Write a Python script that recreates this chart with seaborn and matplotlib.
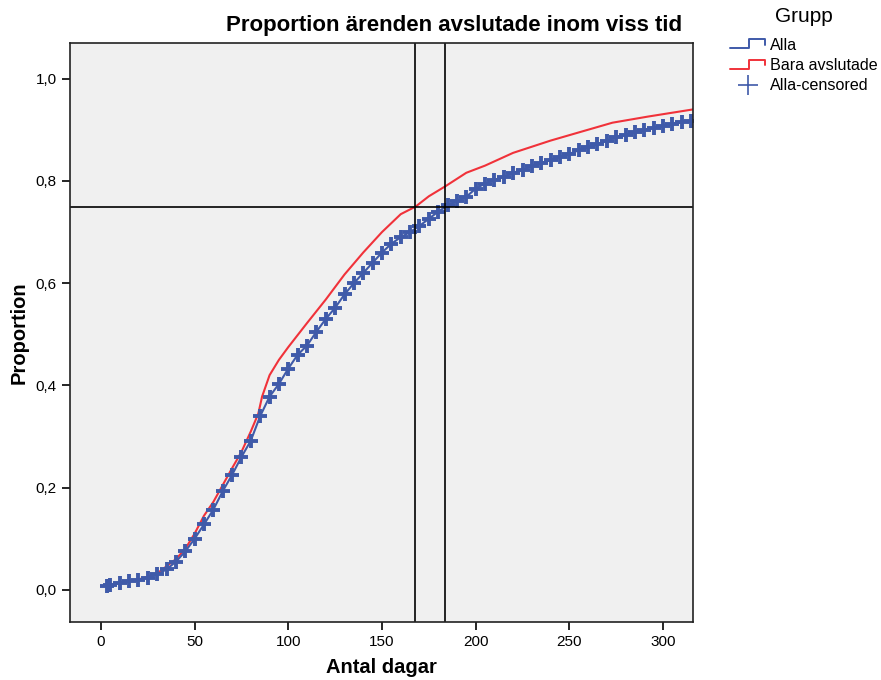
import numpy as np
import pandas as pd
import matplotlib
matplotlib.use("Agg")
import matplotlib.pyplot as plt
from matplotlib.lines import Line2D
from matplotlib.legend_handler import HandlerLine2D
from matplotlib.ticker import FuncFormatter
import seaborn as sns

# curve values
alla_days = [3, 5, 10, 15, 20, 25, 30, 35, 40, 45, 50, 55, 60, 65, 70, 75, 80, 85,
             90, 95, 100, 105, 110, 115, 120, 125, 130, 135, 140, 145, 150, 155,
             160, 165, 170, 175, 180, 185, 190, 195, 200, 205, 210, 215, 220, 225,
             230, 235, 240, 245, 250, 255, 260, 265, 270, 275, 280, 285, 290, 295,
             300, 305, 310, 315]
alla_prop = [0.008, 0.009, 0.014, 0.017, 0.02, 0.024, 0.03, 0.04, 0.055, 0.075,
             0.1, 0.128, 0.157, 0.193, 0.225, 0.26, 0.292, 0.34, 0.378, 0.403,
             0.433, 0.46, 0.478, 0.505, 0.53, 0.552, 0.578, 0.6, 0.62, 0.64, 0.66,
             0.677, 0.69, 0.7, 0.712, 0.726, 0.74, 0.752, 0.761, 0.769, 0.785,
             0.795, 0.802, 0.808, 0.816, 0.822, 0.829, 0.835, 0.841, 0.847, 0.853,
             0.86, 0.866, 0.872, 0.879, 0.886, 0.89, 0.895, 0.9, 0.904, 0.908,
             0.912, 0.915, 0.918]

avsl_days = [3, 10, 20, 30, 40, 45, 50, 55, 60, 65, 70, 75, 80, 84, 86, 90, 95,
             100, 110, 120, 130, 140, 150, 160, 168, 175, 184, 195, 205, 220, 240,
             256, 273, 292, 316]
avsl_prop = [0.008, 0.014, 0.02, 0.032, 0.06, 0.08, 0.11, 0.145, 0.172, 0.205,
             0.238, 0.27, 0.31, 0.345, 0.378, 0.42, 0.45, 0.475, 0.522, 0.568,
             0.617, 0.66, 0.70, 0.735, 0.75, 0.77, 0.79, 0.816, 0.83, 0.855, 0.879,
             0.896, 0.914, 0.926, 0.94]

ref_days = [167.6, 183.7]
ref_prop = 0.75

blue = "#3f5aa9"
red = "#f0323a"

df = pd.concat([
    pd.DataFrame({"dagar": alla_days, "prop": alla_prop, "Grupp": "Alla"}),
    pd.DataFrame({"dagar": avsl_days, "prop": avsl_prop, "Grupp": "Bara avslutade"}),
])


class StepHandler(HandlerLine2D):
    # little step symbol like the SPSS legend
    def create_artists(self, legend, orig_handle, xdescent, ydescent,
                       width, height, fontsize, trans):
        x0, x1 = -xdescent, -xdescent + width
        xm = x0 + width * 0.55
        ylo = -ydescent + height * 0.1
        yhi = -ydescent + height * 0.9
        ln = Line2D([x0, xm, xm, x1, x1], [ylo, ylo, yhi, yhi, -ydescent + height * 0.45],
                    color=orig_handle.get_color(), lw=1.4, transform=trans)
        return [ln]


sns.set_style("ticks")
plt.rcParams["font.family"] = ["Liberation Sans", "DejaVu Sans"]
plt.rcParams["text.color"] = "black"
plt.rcParams["axes.labelcolor"] = "black"
plt.rcParams["xtick.color"] = "black"
plt.rcParams["ytick.color"] = "black"

fig = plt.figure(figsize=(8.81, 6.8), dpi=100)
ax = fig.add_axes([0.0795, 0.0853, 0.7071, 0.8515])
ax.set_facecolor("#f0f0f0")

sns.lineplot(data=df, x="dagar", y="prop", hue="Grupp",
             palette={"Alla": blue, "Bara avslutade": red},
             hue_order=["Bara avslutade", "Alla"],
             linewidth=1.5, legend=False, ax=ax, estimator=None, sort=True)
ax.plot(alla_days, alla_prop, linestyle="none", marker="+", markersize=10,
        markeredgewidth=2.8, color=blue)

for d in ref_days:
    ax.axvline(d, color="black", lw=1.2)
ax.axhline(ref_prop, color="black", lw=1.2)

ax.set_xlim(-16.5, 316)
ax.set_ylim(-0.063, 1.07)
ax.set_xticks([0, 50, 100, 150, 200, 250, 300])
ax.set_yticks([0, 0.2, 0.4, 0.6, 0.8, 1.0])
ax.yaxis.set_major_formatter(FuncFormatter(lambda v, p: f"{v:.1f}".replace(".", ",")))
ax.tick_params(labelsize=11, length=6, width=1.2, color="black")
for s in ax.spines.values():
    s.set_color("#222222")
    s.set_linewidth(1.2)

ax.set_xlabel("Antal dagar", fontsize=14.5, fontweight="bold", labelpad=6)
ax.set_ylabel("Proportion", fontsize=14.5, fontweight="bold", labelpad=5)
fig.text(0.515, 0.962, "Proportion ärenden avslutade inom viss tid",
         ha="center", va="center", fontsize=16, fontweight="bold")

# legend title placed on its own, like SPSS
fig.text(0.912, 0.976, "Grupp", ha="center", va="center", fontsize=15)
h_alla = Line2D([], [], color=blue, lw=1.4)
h_avsl = Line2D([], [], color=red, lw=1.4)
h_cens = Line2D([], [], color=blue, lw=0, marker="+", markersize=14, markeredgewidth=1.2)
leg = fig.legend([h_alla, h_avsl, h_cens], ["Alla", "Bara avslutade", "Alla-censored"],
                 loc="upper left", bbox_to_anchor=(0.812, 0.966),
                 frameon=False, fontsize=11.6,
                 handlelength=2.2, handletextpad=0.3, labelspacing=0.33,
                 handler_map={h_alla: StepHandler(), h_avsl: StepHandler()})

fig.savefig("out.png", dpi=100)
